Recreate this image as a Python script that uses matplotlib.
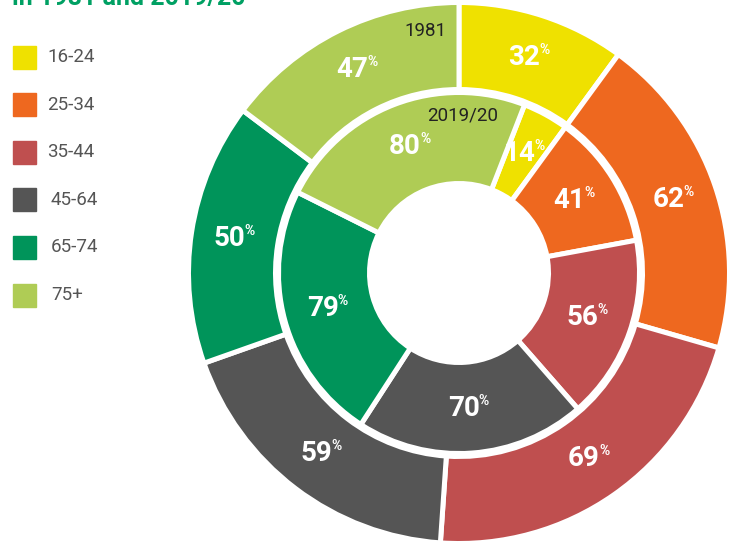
import numpy as np
import matplotlib.pyplot as plt
from matplotlib.patches import Rectangle
from matplotlib.transforms import Affine2D

plt.rcParams['font.family'] = ['Roboto', 'DejaVu Sans']

# data
ages = ['16-24', '25-34', '35-44', '45-64', '65-74', '75+']
share_1981 = [32, 62, 69, 59, 50, 47]
share_2019 = [14, 41, 56, 70, 79, 80]
colors = ['#efe100', '#ee681f', '#bf4f4f', '#555555', '#00945a', '#afcc55']

W, H = 736, 542
fig = plt.figure(figsize=(W / 100, H / 100), dpi=100)
ax = fig.add_axes([0, 0, 1, 1])

cx, cy = 459, H - 273   # pie centre in pixels
edge = 3.6              # white separator, points
half = 2.5              # half the separator, pixels

# outer ring (1981), starting at 12 o'clock, clockwise
r_out = 268 + half
w_out = r_out - (186 - half)
ax.pie(share_1981, colors=colors, radius=r_out, center=(cx, cy),
       startangle=90, counterclock=False,
       wedgeprops=dict(width=w_out, edgecolor='white', linewidth=edge))

# inner ring (2019/20): first slice ends where the outer one ends
tot_o = sum(share_1981)
tot_i = sum(share_2019)
start_in = 90 - 360 * (share_1981[0] / tot_o - share_2019[0] / tot_i)
r_in = 178 + half
w_in = r_in - (92 - half)
ax.pie(share_2019, colors=colors, radius=r_in, center=(cx, cy),
       startangle=start_in, counterclock=False,
       wedgeprops=dict(width=w_in, edgecolor='white', linewidth=edge))

ax.set_xlim(0, W)
ax.set_ylim(0, H)
ax.set_aspect('auto')
ax.axis('off')

renderer = fig.canvas.get_renderer()


def pct_label(x, y, value):
    num = ax.text(x, y, str(value), color='white', fontsize=20,
                  fontweight='bold', ha='center', va='center')
    sign = ax.text(0, 0, '%', color='white', fontsize=10,
                   fontweight='bold', ha='left', va='top')
    sw = sign.get_window_extent(renderer).width
    num.set_transform(ax.transData + Affine2D().translate(-sw / 2, 0))
    bb = num.get_window_extent(renderer)
    sign.set_transform(None)
    sign.set_position((bb.x1 - 1, bb.y1 + 1))


def ring_labels(values, start, radius, tot):
    acc = 0
    for v in values:
        mid = start - 360 * (acc + v / 2) / tot
        a = np.deg2rad(mid)
        pct_label(cx + radius * np.cos(a), cy + radius * np.sin(a), v)
        acc += v


ring_labels(share_1981, 90, 227, tot_o)
ring_labels(share_2019, start_in, 136, tot_i)

ax.text(425, H - 31, '1981', color='#222222', fontsize=13.5,
        ha='center', va='center')
ax.text(463, H - 115, '2019/20', color='#222222', fontsize=13.5,
        ha='center', va='center')

# legend
for i, (lab, col) in enumerate(zip(ages, colors)):
    yc = H - (57 + i * 47.6)
    ax.add_patch(Rectangle((13, yc - 11.5), 23, 23, color=col))
    tx = 47 if i < 3 else 51
    ax.text(tx, yc, lab, color='#555555', fontsize=13.5,
            ha='left', va='center')

# title, mostly cut off at the top edge
ax.text(12, H - 5, 'in 1981 and 2019/20', color='#00a063', fontsize=18,
        fontweight='bold', ha='left', va='baseline')

fig.savefig('out.png', dpi=100)
